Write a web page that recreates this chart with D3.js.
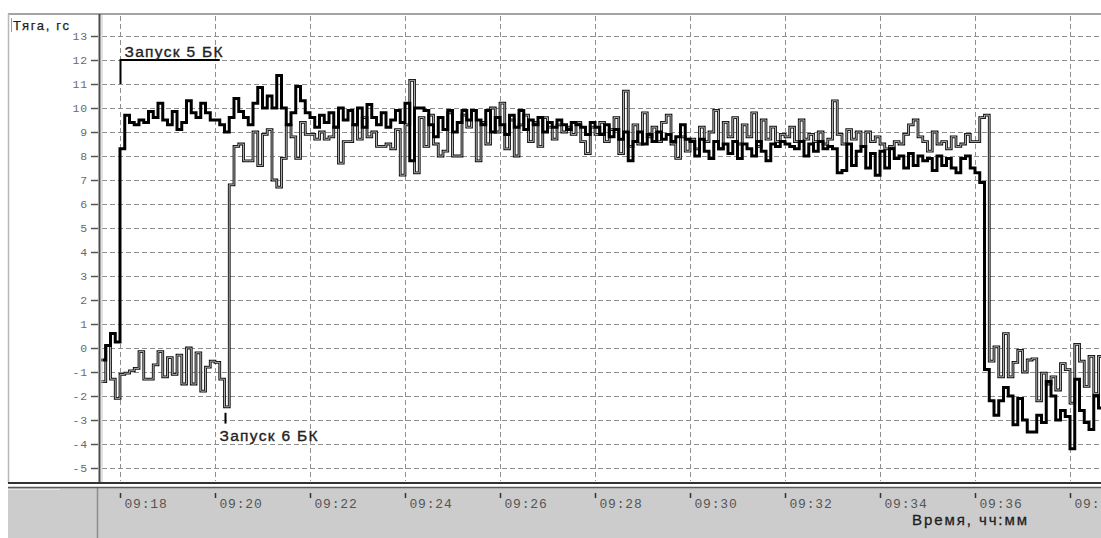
<!DOCTYPE html>
<html>
<head>
<meta charset="utf-8">
<script src="https://cdn.jsdelivr.net/npm/d3@7"></script>
<style>
  html, body { margin: 0; padding: 0; background: #fff; }
  svg { display: block; }
</style>
</head>
<body>
<svg id="chart" width="1101" height="538"></svg>
<script>
// Thrust of two boosters (gf), sampled every 6 s starting at 09:17:36.
const sampleStart = [9, 17, 36];
const sampleStepSec = 6;

// Booster 5 (thick line)
const thrustBK5 = [
  -0.5, 0.1, 0.6, 0.25,
  8.3, 9.7, 9.4, 9.3, 9.5, 9.4, 9.85, 9.6, 10.2, 9.5, 9.3, 9.85, 9.1, 9.4, 10.3, 9.8, 9.6, 10.2, 9.8, 9.5,
  9.5, 9.3, 9.0, 9.6, 10.4, 9.85, 9.6, 9.3, 10.2, 10.85, 10.0, 10.5, 10.0, 11.35, 10.0, 9.3, 9.8, 10.9, 10.3, 9.8,
  9.6, 9.2, 9.7, 9.4, 9.8, 9.2, 10.0, 9.5, 9.9, 9.3, 10.0, 9.2, 10.15, 9.6, 9.3, 9.8, 9.2, 9.5, 9.9, 9.4,
  10.2, 7.8, 10.0, 10.0, 9.9, 9.3, 8.8, 9.6, 9.1, 9.9, 9.0, 9.4, 9.9, 9.5, 9.9, 9.5, 9.3, 9.9, 9.0, 9.6,
  9.3, 8.9, 9.7, 9.2, 9.9, 9.1, 9.5, 9.3, 9.6, 9.0, 9.4, 9.2, 9.5, 9.3, 9.1, 9.4, 9.3, 9.2, 8.9, 9.4,
  9.2, 8.9, 9.3, 8.8, 9.1, 8.7, 9.0, 7.8, 8.6, 9.0, 8.5, 8.9, 8.6, 9.0, 8.7, 8.9, 8.6, 8.8, 9.3, 8.7,
  8.6, 8.0, 8.7, 8.2, 7.9, 8.6, 8.3, 8.5, 8.1, 8.6, 7.9, 8.5, 8.3, 8.0, 8.6, 8.2, 7.8, 8.5, 8.4, 8.6,
  8.5, 8.4, 8.3, 8.6, 8.0, 8.5, 8.2, 8.6, 8.3, 8.4, 8.3, 7.3, 7.4, 8.5, 7.6, 8.2, 8.4, 7.5, 8.1, 7.2,
  8.2, 7.5, 8.3, 7.9, 8.0, 7.5, 8.1, 7.6, 8.0, 7.8, 7.9, 7.4, 8.0, 7.6, 7.9, 7.5, 7.3, 7.9, 8.0, 7.5,
  7.3, 6.9, -0.9, -2.2, -2.8, -2.2, -1.65, -2.0, -3.2, -2.1, -3.0, -3.5, -3.5, -2.8, -3.1, -1.4, -2.0, -3.0, -2.6, -2.85,
  -4.2, -1.3, -2.6, -3.1, -3.4, -2.0, -2.5, -2.4
];

// Booster 6 (outlined line)
const thrustBK6 = [
  -1.4, 0.1, -1.3, -2.1,
  -1.1, -1.05, -0.95, -0.85, -0.15, -1.3, -1.3, -0.7, -0.15, -1.2, -0.4, -1.1, -0.3, -1.5, 0.0, -1.5, -0.2, -1.8, -0.8, -0.55,
  -0.6, -1.3, -2.45, 6.8, 8.4, 8.5, 7.8, 7.8, 9.0, 7.6, 8.9, 9.1, 7.0, 6.7, 7.9, 9.3, 8.8, 7.9, 9.4, 8.9,
  8.9, 8.7, 9.0, 8.7, 8.8, 9.2, 7.7, 8.6, 8.6, 9.3, 8.7, 9.6, 8.8, 9.0, 8.4, 8.4, 8.5, 8.3, 9.1, 7.2,
  9.3, 11.15, 7.3, 9.6, 8.4, 9.7, 8.5, 8.0, 8.2, 9.8, 8.0, 8.0, 9.7, 9.2, 9.9, 7.8, 9.4, 8.5, 10.0, 9.0,
  10.2, 8.3, 9.5, 8.0, 9.3, 9.7, 8.6, 9.4, 8.4, 9.6, 9.2, 8.7, 9.3, 9.0, 9.2, 8.9, 9.4, 8.6, 8.1, 9.2,
  8.9, 9.4, 8.6, 9.1, 9.6, 8.1, 10.7, 8.4, 9.3, 8.5, 9.8, 8.8, 9.2, 8.6, 9.4, 9.7, 8.5, 7.9, 8.8, 8.2,
  8.7, 8.3, 9.2, 8.6, 9.0, 9.9, 8.3, 9.4, 8.8, 9.6, 8.5, 9.3, 8.8, 9.8, 8.4, 9.5, 8.7, 9.2, 8.6, 8.9,
  8.8, 9.2, 8.6, 9.5, 8.7, 8.9, 8.6, 9.0, 8.5, 8.7, 10.3, 8.9, 8.5, 9.1, 8.7, 9.0, 8.4, 9.0, 8.6, 8.8,
  8.5, 8.3, 8.4, 8.6, 8.5, 8.9, 9.3, 9.5, 8.8, 8.6, 8.2, 9.0, 8.5, 8.6, 8.3, 8.8, 8.4, 8.5, 8.9, 8.6,
  8.6, 9.6, 9.7, -0.55, 0.05, -1.2, 0.6, -1.2, -0.6, -0.1, -1.0, -0.5, -0.45, -2.2, -1.05, -1.5, -1.2, -1.75, -0.65, -0.9,
  -2.3, 0.15, -0.55, -1.6, -0.35, -1.9, -0.35, -0.5
];

// Axis ticks
const yTickValues = [-5, -4, -3, -2, -1, 0, 1, 2, 3, 4, 5, 6, 7, 8, 9, 10, 11, 12, 13];
const xTickTimes = ["09:18", "09:20", "09:22", "09:24", "09:26", "09:28", "09:30",
                    "09:32", "09:34", "09:36", "09:38"];

// Texts
const yTitle = "Тяга, гс";
const xTitle = "Время, чч:мм";
const launches = [
  { label: "Запуск 5 БК", time: "09:18:00", bracketEnd: "09:20:06" },
  { label: "Запуск 6 БК", time: "09:20:12" }
];

// ---------------------------------------------------------------
const day = (hms) => {
  const p = hms.split(":").map(Number);
  return new Date(2000, 0, 1, p[0], p[1], p[2] || 0);
};
const t0 = new Date(2000, 0, 1, sampleStart[0], sampleStart[1], sampleStart[2]);
const timeAt = (i) => d3.timeSecond.offset(t0, i * sampleStepSec);

const svg = d3.select("#chart");
const W = 1101, H = 538;

// Plot frame
const plot = { left: 100, right: 1101, top: 15, bottom: 482 };

const x = d3.scaleTime()
  .domain([day(xTickTimes[0]), day(xTickTimes[xTickTimes.length - 1])])
  .range([120, 1070]);
const y = d3.scaleLinear().domain([-5, 13]).range([468, 36]);

svg.append("rect").attr("width", W).attr("height", H).attr("fill", "#fff");

// Bottom status strip
svg.append("rect").attr("x", 8).attr("y", 487).attr("width", W - 8).attr("height", H - 487)
  .attr("fill", "#cccccc");
svg.append("line").attr("x1", 8).attr("x2", 60).attr("y1", 489.5).attr("y2", 489.5)
  .attr("stroke", "#e6e6e6").attr("stroke-width", 1);
svg.append("line").attr("x1", 97.5).attr("x2", 97.5).attr("y1", 488).attr("y2", H)
  .attr("stroke", "#8c8c8c").attr("stroke-width", 1.5);

// Outer frame lines
svg.append("line").attr("x1", 8).attr("x2", W).attr("y1", 14).attr("y2", 14)
  .attr("stroke", "#a4a4a4").attr("stroke-width", 2);
svg.append("line").attr("x1", 8.5).attr("x2", 8.5).attr("y1", 14).attr("y2", 483)
  .attr("stroke", "#b8b8b8").attr("stroke-width", 1.5);
svg.append("line").attr("x1", 11.5).attr("x2", 11.5).attr("y1", 18).attr("y2", 32)
  .attr("stroke", "#9a9a9a").attr("stroke-width", 1);

// Grid
const grid = svg.append("g").attr("stroke", "#8e8e8e").attr("stroke-width", 1)
  .attr("stroke-dasharray", "5,3");
grid.selectAll("line.h").data(yTickValues).join("line").attr("class", "h")
  .attr("x1", plot.left + 2).attr("x2", plot.right)
  .attr("y1", d => Math.round(y(d)) + 0.5).attr("y2", d => Math.round(y(d)) + 0.5);
grid.selectAll("line.v").data(xTickTimes).join("line").attr("class", "v")
  .attr("x1", d => Math.round(x(day(d))) + 0.5).attr("x2", d => Math.round(x(day(d))) + 0.5)
  .attr("y1", plot.top + 1).attr("y2", plot.bottom - 1);

// Data
svg.append("clipPath").attr("id", "plotClip").append("rect")
  .attr("x", plot.left + 1).attr("y", plot.top).attr("width", plot.right - plot.left).attr("height", plot.bottom - plot.top);

const line = d3.line()
  .x((d, i) => x(timeAt(i)))
  .y(d => y(d))
  .curve(d3.curveStepAfter);

const dataG = svg.append("g").attr("clip-path", "url(#plotClip)");
// booster 6: dark outline with a light core
dataG.append("path").attr("d", line(thrustBK6)).attr("fill", "none")
  .attr("stroke", "#111").attr("stroke-width", 2.8).attr("stroke-linejoin", "miter");
dataG.append("path").attr("d", line(thrustBK6)).attr("fill", "none")
  .attr("stroke", "#bdbdbd").attr("stroke-width", 0.9).attr("stroke-linejoin", "miter");
// booster 5: solid thick line
dataG.append("path").attr("d", line(thrustBK5)).attr("fill", "none")
  .attr("stroke", "#000").attr("stroke-width", 3).attr("stroke-linejoin", "miter");

// Axis lines and bottom double rule
svg.append("line").attr("x1", 99.5).attr("x2", 99.5).attr("y1", 14).attr("y2", 483)
  .attr("stroke", "#4a4a4a").attr("stroke-width", 2);
svg.append("line").attr("x1", 102).attr("x2", 102).attr("y1", 15).attr("y2", 482)
  .attr("stroke", "#c4c4c4").attr("stroke-width", 1);
svg.append("line").attr("x1", 8).attr("x2", W).attr("y1", 483).attr("y2", 483)
  .attr("stroke", "#333").attr("stroke-width", 2);
svg.append("line").attr("x1", 8).attr("x2", W).attr("y1", 487.5).attr("y2", 487.5)
  .attr("stroke", "#5a5a5a").attr("stroke-width", 1.5);

// Y axis
const yAxis = svg.append("g").attr("transform", "translate(98,0)")
  .call(d3.axisLeft(y).tickValues(yTickValues).tickSize(7).tickPadding(3).tickFormat(d3.format("d")));
yAxis.select(".domain").remove();
yAxis.selectAll(".tick line").attr("stroke", "#555").attr("stroke-width", 1.5);
yAxis.selectAll(".tick text")
  .attr("font-family", "'Liberation Mono', 'DejaVu Sans Mono', monospace")
  .attr("font-size", 11.5).attr("letter-spacing", 0.8).attr("fill", "#6a6a6a")
  .text(d => d < 0 ? "-" + Math.abs(d) : String(d));

// X axis (labels in the bottom strip)
const xAxis = svg.append("g").attr("transform", "translate(0,493)")
  .call(d3.axisBottom(x).tickValues(xTickTimes.map(day)).tickSize(5).tickPadding(0)
    .tickFormat(d3.timeFormat("%H:%M")));
xAxis.select(".domain").remove();
xAxis.selectAll(".tick line").attr("stroke", "#333").attr("stroke-width", 1.5);
xAxis.selectAll(".tick text")
  .attr("text-anchor", "start").attr("x", 4).attr("y", 15).attr("dy", null)
  .attr("font-family", "'Liberation Mono', 'DejaVu Sans Mono', monospace")
  .attr("font-size", 13).attr("letter-spacing", 0.8).attr("fill", "#555");

// Titles
const titleFont = "'Liberation Sans', Arial, sans-serif";
svg.append("text").attr("x", 13).attr("y", 30).text(yTitle)
  .attr("font-family", titleFont).attr("font-size", 13)
  .attr("textLength", 56).attr("lengthAdjust", "spacing")
  .attr("fill", "#1e1e1e").attr("stroke", "#1e1e1e").attr("stroke-width", 0.25);
svg.append("text").attr("x", 912).attr("y", 524.5).text(xTitle)
  .attr("font-family", titleFont).attr("font-size", 15)
  .attr("textLength", 115).attr("lengthAdjust", "spacing")
  .attr("fill", "#1e1e1e").attr("stroke", "#1e1e1e").attr("stroke-width", 0.3);

// Launch annotations
const ann = svg.append("g");
const l5 = launches[0], l6 = launches[1];
const x5 = Math.round(x(day(l5.time))) + 0.5;
const x5e = x(day(l5.bracketEnd));
ann.append("path")
  .attr("d", `M${x5},${y(11)}V${y(12)}H${x5e}`)
  .attr("fill", "none").attr("stroke", "#000").attr("stroke-width", 2);
ann.append("text").attr("x", x5 + 4).attr("y", 56.5).text(l5.label)
  .attr("font-family", titleFont).attr("font-size", 15.5)
  .attr("textLength", 98).attr("lengthAdjust", "spacing")
  .attr("fill", "#222").attr("stroke", "#222").attr("stroke-width", 0.35);

const x6 = Math.round(x(day(l6.time))) + 0.5;
ann.append("line").attr("x1", x6).attr("x2", x6).attr("y1", y(-2.7)).attr("y2", y(-3.15))
  .attr("stroke", "#000").attr("stroke-width", 2);
ann.append("text").attr("x", x6 - 6).attr("y", 440.5).text(l6.label)
  .attr("font-family", titleFont).attr("font-size", 15.5)
  .attr("textLength", 98).attr("lengthAdjust", "spacing")
  .attr("fill", "#222").attr("stroke", "#222").attr("stroke-width", 0.35);
</script>
</body>
</html>
